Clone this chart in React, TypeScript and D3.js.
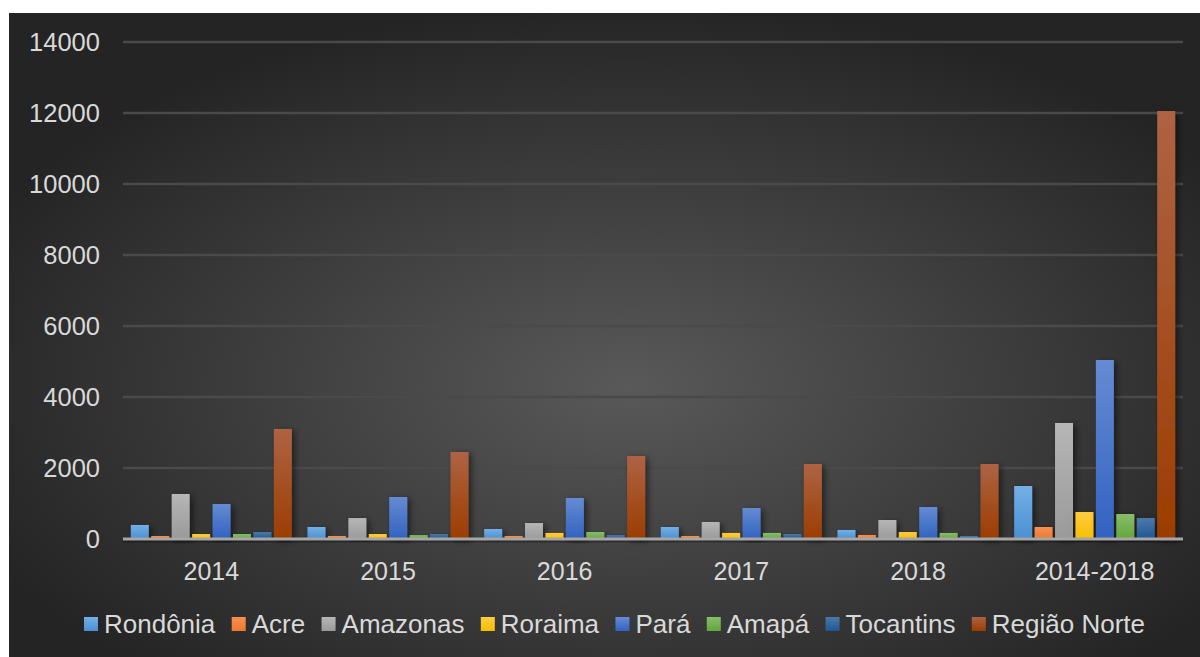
import React, { useEffect, useRef } from "react";
import * as d3 from "d3";

const categories = ["2014", "2015", "2016", "2017", "2018", "2014-2018"];
const seriesNames = ["Rondônia", "Acre", "Amazonas", "Roraima", "Pará", "Amapá", "Tocantins", "Região Norte"];
const rondonia = [395, 338, 282, 338, 254, 1493];
const acre = [85, 85, 85, 85, 113, 338];
const amazonas = [1268, 590, 450, 479, 535, 3268];
const roraima = [140, 140, 170, 170, 197, 760];
const para = [986, 1183, 1155, 873, 901, 5042];
const amapa = [140, 110, 197, 170, 170, 704];
const tocantins = [197, 140, 110, 140, 85, 591];
const regiaoNorte = [3099, 2450, 2338, 2113, 2113, 12056];
const yTicks = [0, 2000, 4000, 6000, 8000, 10000, 12000, 14000];

const seriesValues = [rondonia, acre, amazonas, roraima, para, amapa, tocantins, regiaoNorte];
const colorsTop = ["#74afe6", "#f78f52", "#b6b6b6", "#ffcc40", "#658bd3", "#88be6a", "#4d79aa", "#ae6344"];
const colorsBottom = ["#4a90d2", "#ec7a2e", "#9a9a9a", "#f6bf00", "#3262c0", "#62a63a", "#1d5893", "#9c3d00"];

export default function App() {
  const ref = useRef<SVGSVGElement>(null);
  useEffect(() => {
    const svg = d3.select(ref.current);
    svg.selectAll("*").remove();
    const W = 1200, H = 657;
    const left = 123, right = 1183, top = 42, bottom = 539;
    const defs = svg.append("defs");
    const bg = defs.append("radialGradient").attr("id", "bg")
      .attr("cx", "52%").attr("cy", "58%").attr("r", "60%");
    bg.append("stop").attr("offset", "0%").attr("stop-color", "#595959");
    bg.append("stop").attr("offset", "100%").attr("stop-color", "#242424");
    seriesNames.forEach((_, i) => {
      const g = defs.append("linearGradient").attr("id", "g" + i)
        .attr("x1", 0).attr("y1", 0).attr("x2", 0).attr("y2", 1);
      g.append("stop").attr("offset", "0%").attr("stop-color", colorsTop[i]);
      g.append("stop").attr("offset", "100%").attr("stop-color", colorsBottom[i]);
    });
    const f = defs.append("filter").attr("id", "sh").attr("x", "-50%").attr("y", "-10%").attr("width", "200%").attr("height", "120%");
    f.append("feDropShadow").attr("dx", 3).attr("dy", 2).attr("stdDeviation", 3)
      .attr("flood-color", "#000").attr("flood-opacity", 0.5);

    svg.append("rect").attr("x", 9).attr("y", 13).attr("width", W - 9).attr("height", H - 13)
      .attr("fill", "url(#bg)");

    const y = d3.scaleLinear().domain([0, 14000]).range([bottom, top]);
    const x0 = d3.scaleBand().domain(categories).range([left, right]).paddingInner(0).paddingOuter(0);
    const groupInner = 161;
    const x1 = d3.scaleBand().domain(seriesNames).range([0, groupInner]).paddingInner(0.12).paddingOuter(0);

    const font = "'Liberation Sans', Arial, sans-serif";
    svg.append("g").selectAll("line").data(yTicks.filter(t => t > 0)).join("line")
      .attr("x1", left).attr("x2", right)
      .attr("y1", d => y(d)).attr("y2", d => y(d))
      .attr("stroke", "#4a4a4a").attr("stroke-width", 2.5);

    svg.append("g").selectAll("text").data(yTicks).join("text")
      .attr("x", 100).attr("y", d => y(d)).attr("dy", "0.36em")
      .attr("text-anchor", "end").attr("font-family", font).attr("font-size", 25.5)
      .attr("fill", "#d9d9d9").text(d => String(d));

    const groups = svg.append("g").selectAll("g").data(categories).join("g")
      .attr("transform", d => `translate(${x0(d)! + (x0.bandwidth() - groupInner) / 2},0)`);
    groups.selectAll("rect").data((_, ci) => seriesNames.map((s, si) => ({ s, si, v: seriesValues[si][ci] })))
      .join("rect")
      .attr("x", d => x1(d.s)!).attr("width", x1.bandwidth())
      .attr("y", d => y(d.v)).attr("height", d => bottom - y(d.v))
      .attr("fill", d => `url(#g${d.si})`).attr("filter", "url(#sh)");

    // axis line
    svg.append("line").attr("x1", left).attr("x2", right).attr("y1", bottom + 2).attr("y2", bottom + 2)
      .attr("stroke", "#000").attr("stroke-opacity", 0.3).attr("stroke-width", 3);
    svg.append("line").attr("x1", left).attr("x2", right).attr("y1", bottom).attr("y2", bottom)
      .attr("stroke", "#a6a6a6").attr("stroke-width", 3);

    svg.append("g").selectAll("text").data(categories).join("text")
      .attr("x", d => x0(d)! + x0.bandwidth() / 2).attr("y", 580)
      .attr("text-anchor", "middle").attr("font-family", font).attr("font-size", 25)
      .attr("fill", "#d9d9d9").text(d => d);

    // legend
    const lg = svg.append("g");
    const items: { g: any; w: number }[] = [];
    seriesNames.forEach((s, i) => {
      const g = lg.append("g");
      g.append("rect").attr("x", 0).attr("y", -7).attr("width", 14).attr("height", 14).attr("fill", `url(#g${i})`);
      const t = g.append("text").attr("x", 20).attr("y", 0).attr("dy", "0.36em")
        .attr("font-family", font).attr("font-size", 26).attr("fill", "#d9d9d9").text(s);
      const w = 20 + (t.node() as SVGTextElement).getComputedTextLength();
      items.push({ g, w });
    });
    const span = 1061;
    const textTotal = items.reduce((a, b) => a + b.w, 0);
    const gap = Math.max(8, (span - textTotal) / (items.length - 1));
    let cx = 84 + (span - (textTotal + gap * (items.length - 1))) / 2;
    items.forEach(it => {
      it.g.attr("transform", `translate(${cx},624)`);
      cx += it.w + gap;
    });
  }, []);
  return <svg ref={ref} width={1200} height={657} style={{ display: "block", position: "absolute", left: 0, top: 0 }} />;
}
